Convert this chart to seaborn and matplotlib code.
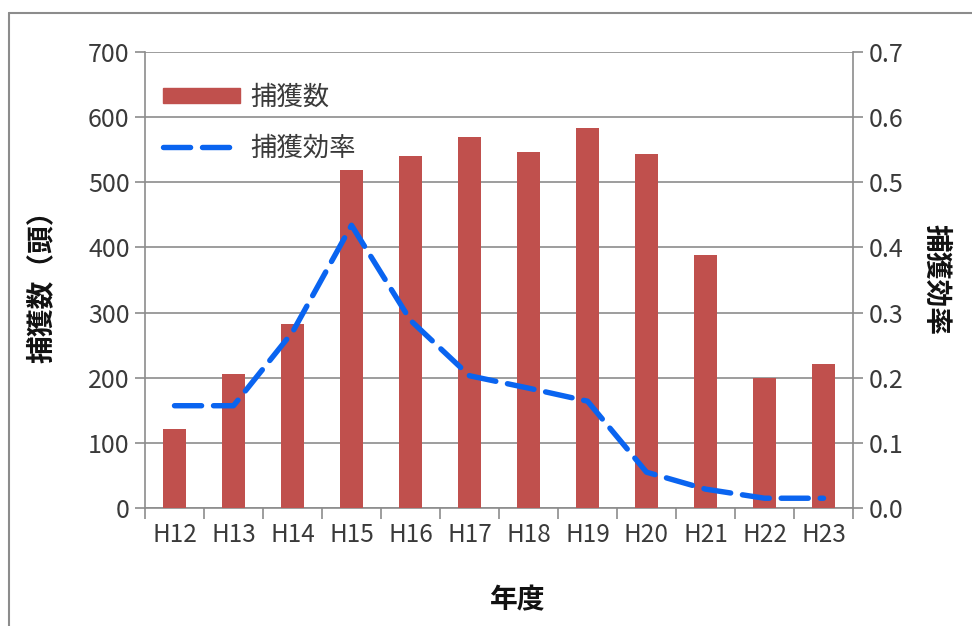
import matplotlib
matplotlib.use("Agg")
import matplotlib.pyplot as plt
from matplotlib.lines import Line2D
from matplotlib.patches import Patch
import seaborn as sns
import numpy as np
import pandas as pd

years = ["H12", "H13", "H14", "H15", "H16", "H17", "H18", "H19", "H20", "H21", "H22", "H23"]
catch_counts = [122, 206, 283, 519, 541, 570, 546, 584, 544, 389, 199, 221]
catch_efficiency = [0.157, 0.157, 0.270, 0.434, 0.288, 0.203, 0.184, 0.164, 0.055, 0.029, 0.015, 0.015]

df = pd.DataFrame({"year": years, "count": catch_counts, "eff": catch_efficiency})
df["pos"] = np.arange(len(df))

sns.set_theme(style="white")
plt.rcParams["font.family"] = ["Noto Sans CJK JP", "DejaVu Sans"]

fig = plt.figure(figsize=(9.72, 6.26), dpi=100)
ax = fig.add_axes([145/972, 1-508/626, (853-145)/972, (508-52)/626])

bar_color = "#C0504D"
line_color = "#0A64F0"
grid_color = "#8C8C8C"
text_color = "#3A3A3A"

sns.barplot(data=df, x="year", y="count", color=bar_color, width=0.38,
            saturation=1, ax=ax, zorder=3, linewidth=0)
ax.set_ylim(0, 700)
ax.set_yticks(np.arange(0, 701, 100))
ax.set_xlim(-0.5, len(years) - 0.5)
ax.yaxis.grid(True, color=grid_color, lw=1.2, zorder=0)
ax.set_axisbelow(True)

ax2 = ax.twinx()
sns.lineplot(x=df["pos"], y=df["eff"], ax=ax2, color=line_color, lw=3.9,
             sort=False, zorder=4)
ax2.lines[0].set_dashes([5.0, 2.2])
ax2.lines[0].set_dash_capstyle("round")
ax2.set_ylim(0, 0.7)
ax2.set_yticks(np.arange(0, 0.71, 0.1))
ax2.set_yticklabels([f"{v:.1f}" for v in np.arange(0, 0.71, 0.1)])
ax2.set_xlim(-0.5, len(years) - 0.5)

for a in (ax, ax2):
    a.spines["top"].set_visible(False)
    for s in ("left", "right", "bottom"):
        a.spines[s].set_color(grid_color)
        a.spines[s].set_linewidth(1.2)
ax.spines["right"].set_visible(False)
ax2.spines["left"].set_visible(False)
ax2.spines["bottom"].set_visible(False)

# x ticks between categories
ax.set_xticks(np.arange(len(years)))
ax.set_xticklabels(years)
ax.set_xticks(np.arange(-0.5, len(years), 1), minor=True)
ax.tick_params(axis="x", which="major", length=0, pad=10, labelsize=17.5, labelcolor=text_color)
ax.tick_params(axis="x", which="minor", length=8, width=1.2, color=grid_color, direction="out", bottom=True)
ax.tick_params(axis="y", length=7, width=1.2, color=grid_color, direction="out", left=True,
               labelsize=18, labelcolor=text_color, pad=4)
ax2.tick_params(axis="y", length=7, width=1.2, color=grid_color, direction="out", right=True,
                labelsize=18, labelcolor=text_color, pad=4)

ax.set_xlabel("")
ax.set_ylabel("")
ax2.set_xlabel("")
ax2.set_ylabel("")

fig.text(518/972, 1-600/626, "年度", ha="center", va="center", fontsize=20,
         fontweight="bold", color="#111111")
fig.text(42/972, 1-280/626, "捕獲数（頭）", ha="center", va="center", rotation=90,
         fontsize=20, fontweight="bold", color="#111111")
fig.text(936/972, 1-280/626, "捕獲効率", ha="center", va="center", rotation=270,
         fontsize=20, fontweight="bold", color="#111111")

handles = [Patch(facecolor=bar_color, edgecolor=bar_color),
           Line2D([0], [0], color=line_color, lw=3.9, dashes=[5.0, 2.2],
                  dash_capstyle="round")]
leg = ax.legend(handles, ["捕獲数", "捕獲効率"], loc="upper left",
                bbox_to_anchor=(0.0, 0.97), frameon=False, fontsize=19,
                handlelength=2.9, handleheight=0.5, handletextpad=0.4,
                labelspacing=0.9, borderaxespad=0.3)
for t in leg.get_texts():
    t.set_color(text_color)

# outer frame (top and left edges visible)
fig.add_artist(Line2D([9/972, 1.0], [1-13/626, 1-13/626], color="#8C8C8C", lw=1.5,
                      transform=fig.transFigure))
fig.add_artist(Line2D([9/972, 9/972], [0.0, 1-13/626], color="#8C8C8C", lw=1.5,
                      transform=fig.transFigure))

fig.savefig("out.png", dpi=100)
